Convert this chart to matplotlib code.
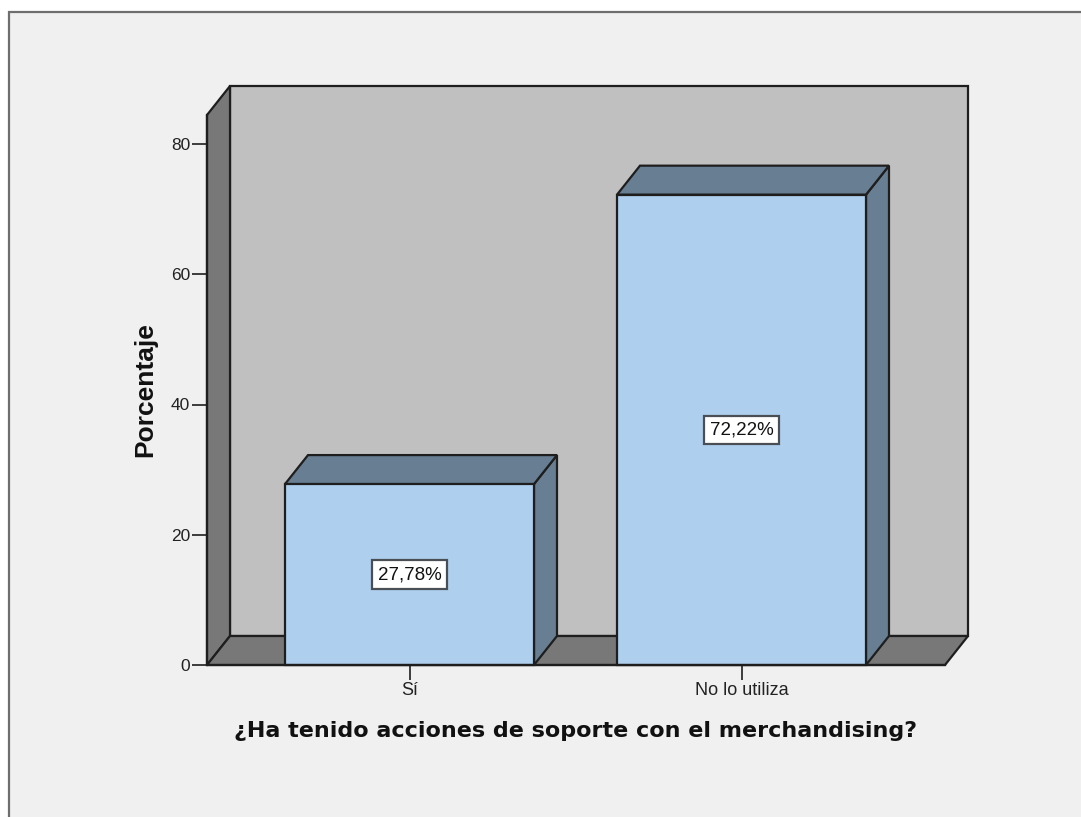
import matplotlib
matplotlib.use("Agg")
import matplotlib.pyplot as plt
from matplotlib.patches import Polygon, Rectangle

categories = ["Sí", "No lo utiliza"]
percentages = [27.78, 72.22]
value_labels = ["27,78%", "72,22%"]
y_ticks = [0, 20, 40, 60, 80]
x_title = "¿Ha tenido acciones de soporte con el merchandising?"
y_title = "Porcentaje"

W, H = 1081, 817
LINE = "#1e1e1e"
BG = "#f0f0f0"
WALL = "#c0c0c0"
SHADE = "#787878"
BAR = "#aecfed"
BAR_DARK = "#687e93"

plt.rcParams["font.family"] = ["Liberation Sans", "DejaVu Sans"]
fig = plt.figure(figsize=(W / 100, H / 100), dpi=100, facecolor="white")

# Panel frame
fig.add_artist(Rectangle((9 / W, -0.01), 1.02, (H - 12) / H + 0.01, transform=fig.transFigure,
                         facecolor=BG, edgecolor="#6e6e6e", linewidth=1.6, zorder=-1))

# Axes box in pixels
left, right, bottom, top = 207, 945, 665, 115
ax = fig.add_axes([left / W, 1 - bottom / H, (right - left) / W, (bottom - top) / H])
ax.patch.set_alpha(0)
px_per_cat = 332
px_per_unit = 521 / 80
ax.set_xlim((left - 409.5) / px_per_cat, (right - 409.5) / px_per_cat)
ax.set_ylim(0, (bottom - top) / px_per_unit)
x0, x1 = ax.get_xlim()
y0, y1 = ax.get_ylim()
dx = 23 / px_per_cat
dy = 29 / px_per_unit
bw = 249 / px_per_cat

def poly(pts, fc, z):
    ax.add_patch(Polygon(pts, closed=True, facecolor=fc, edgecolor=LINE, linewidth=1.6,
                         joinstyle="miter", clip_on=False, zorder=z))

poly([(x0 + dx, y0 + dy), (x1 + dx, y0 + dy), (x1 + dx, y1 + dy), (x0 + dx, y1 + dy)], WALL, 1)
poly([(x0, y0), (x0 + dx, y0 + dy), (x0 + dx, y1 + dy), (x0, y1)], SHADE, 1.1)
poly([(x0, y0), (x1, y0), (x1 + dx, y0 + dy), (x0 + dx, y0 + dy)], SHADE, 1.1)

xs = list(range(len(categories)))
for x, v, lab in zip(xs, percentages, value_labels):
    l, r = x - bw / 2, x + bw / 2
    poly([(r, 0), (r + dx, dy), (r + dx, v + dy), (r, v)], BAR_DARK, 2)
    poly([(l, v), (r, v), (r + dx, v + dy), (l + dx, v + dy)], BAR_DARK, 2)
    ax.bar(x, v, width=bw, color=BAR, edgecolor=LINE, linewidth=1.6, zorder=3, clip_on=False)
    ax.text(x, v / 2, lab, ha="center", va="center", fontsize=13.5, color="#111111", zorder=5,
            bbox=dict(boxstyle="square,pad=0.3", facecolor="white", edgecolor="#4a4f55", linewidth=1.6))

for s in ["top", "right"]:
    ax.spines[s].set_visible(False)
for s in ["left", "bottom"]:
    ax.spines[s].set_linewidth(1.6)
    ax.spines[s].set_color(LINE)
    ax.spines[s].set_zorder(4)

ax.set_xticks(xs, categories)
ax.set_yticks(y_ticks)
ax.tick_params(axis="y", length=11, width=1.2, color=LINE, labelsize=12.5, labelcolor="#222222", pad=1)
ax.tick_params(axis="x", length=11, width=1.2, color=LINE, labelsize=13, labelcolor="#222222", pad=1)

fig.text(575.5 / W, 1 - 731 / H, x_title, ha="center", va="center", fontsize=16, fontweight="bold",
         family=["DejaVu Sans"], color="#111111")
fig.text(145 / W, 1 - 390 / H, y_title, ha="center", va="center", rotation=90, fontsize=19,
         fontweight="bold", color="#111111")

fig.savefig("out.png", dpi=100, facecolor=fig.get_facecolor())
